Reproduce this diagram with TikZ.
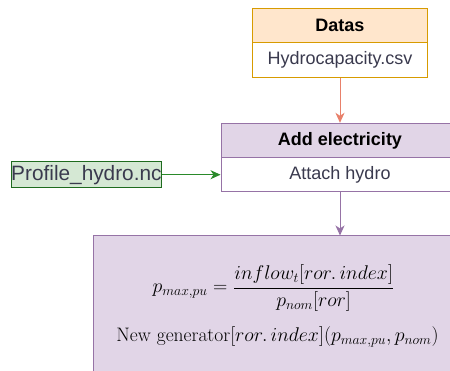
\documentclass[tikz,border=0pt]{standalone}
\usepackage{amsmath}
\usepackage{fontspec}
\newfontfamily\arialfont{Liberation Sans}
\usetikzlibrary{arrows.meta}
\definecolor{orangefill}{HTML}{FFE6CC}
\definecolor{orangeline}{HTML}{D79B00}
\definecolor{purplefill}{HTML}{E1D5E7}
\definecolor{purpleline}{HTML}{9673A6}
\definecolor{greenfill}{HTML}{D5E8D4}
\definecolor{greenline}{HTML}{1E6B1E}
\definecolor{greenarrow}{HTML}{2A8A2A}
\definecolor{salmon}{HTML}{E8806A}
\definecolor{bodytext}{HTML}{3A3A4E}
\tikzset{
  box/.style={draw, line width=1pt, inner sep=0pt, anchor=center,
    font=\arialfont\fontsize{18}{21}\selectfont},
  hdrbox/.style={box, font=\arialfont\bfseries\fontsize{18}{21}\selectfont, text=black},
  bodybox/.style={box, fill=white, text=bodytext},
  link/.style={line width=1pt, -{Stealth[length=10pt,width=9pt,inset=3pt]}},
  mathline/.style={inner sep=0pt, anchor=center, scale=1.148, font=\fontsize{17}{20}\selectfont}
}
\begin{document}
\begin{tikzpicture}[x=1pt,y=-1pt]
\useasboundingbox (0,0) rectangle (450,371);
\clip (0,0) rectangle (450,371);
\fill[white] (0,0) rectangle (450,371);

% data source table
\node[hdrbox, fill=orangefill, draw=orangeline, minimum width=174.6pt, minimum height=34.4pt] (datas) at (340,25.5) {Datas};
\node[bodybox, draw=orangeline, minimum width=174.6pt, minimum height=34.6pt] (csv) at (340,60) {Hydrocapacity.csv};

% processing step
\node[hdrbox, fill=purplefill, draw=purpleline, minimum width=238pt, minimum height=34.4pt] (addel) at (340,140.5) {Add electricity};
\node[bodybox, draw=purpleline, minimum width=238pt, minimum height=34pt] (attach) at (340,174.7) {Attach hydro};

% profile input
\node[box, fill=greenfill, draw=greenline, text=bodytext, minimum width=150.7pt, minimum height=26.3pt,
  font=\arialfont\fontsize{20.8}{23}\selectfont] (profile) at (86.4,174.7) {Profile\_hydro.nc};

% resulting equations
\node[box, fill=purplefill, draw=purpleline, minimum width=494pt, minimum height=220pt] (result) at (340,346) {};
\node[mathline] (eqpmax) at (273.5,288) {$p_{max,pu} = \dfrac{inflow_t[ror.\,index]}{p_{nom}[ror]}$};
\node[mathline] (eqgen) at (277.5,337) {New generator$[ror.\,index](p_{max,pu}, p_{nom})$};

% connectors
\draw[link, salmon] (csv.south) -- (addel.north);
\draw[link, greenarrow] (profile.east) -- (attach.west);
\draw[link, purpleline] (attach.south) -- (result.north);
\end{tikzpicture}
\end{document}
